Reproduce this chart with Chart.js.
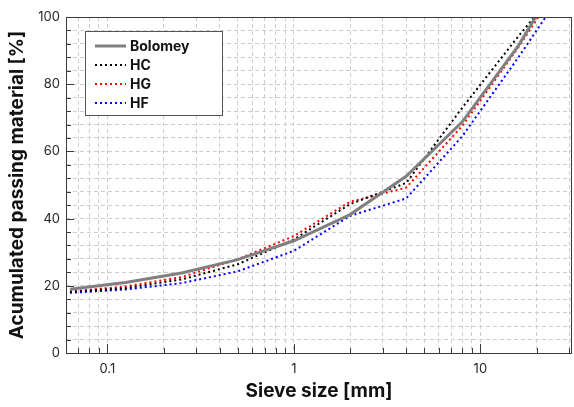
<!DOCTYPE html>
<html>
<head>
<meta charset="utf-8">
<script src="https://cdn.jsdelivr.net/npm/chart.js@4.4.1/dist/chart.umd.min.js"></script>
<style>
  html, body { margin: 0; padding: 0; background: #ffffff; }
  canvas { display: block; }
</style>
</head>
<body>
<canvas id="grading" width="574" height="407"></canvas>
<script>
// sieve openings [mm]
const sieves = [0.063, 0.125, 0.25, 0.5, 1, 2, 4, 8, 16, 22.4];

// accumulated passing [%] per sieve
const bolomey = [19.0, 21.0, 23.8, 27.8, 33.4, 41.2, 52.6, 68.8, 91.5, 105];
const hc      = [18.2, 19.3, 21.9, 26.4, 33.8, 44.3, 50.6, 73.0, 94.3, 104];
const hg      = [18.3, 19.8, 22.6, 27.9, 34.8, 45.0, 49.2, 67.6, 91.0, 103.3];
const hf      = [17.9, 18.9, 20.8, 24.3, 30.4, 40.8, 46.0, 64.5, 88.0, 100];

// axis ticks
const xTicks = [0.06, 0.07, 0.08, 0.09, 0.1, 0.2, 0.3, 0.4, 0.5, 0.6, 0.7, 0.8, 0.9,
                1, 2, 3, 4, 5, 6, 7, 8, 9, 10, 20, 30];
const xTickLabels = [0.1, 1, 10];
const yTickLabels = [0, 20, 40, 60, 80, 100];

const FONT = 'Inter, "DejaVu Sans", sans-serif';
const GRID = '#cdcdcd';
const AXIS = '#3a3a3a';

function pts(ys) {
  return sieves.map((x, i) => ({ x: x, y: ys[i] }));
}

// inner tick marks, box around the plot and the legend
const decorations = {
  id: 'decorations',
  afterDraw(chart) {
    const { ctx, chartArea: a, scales: { x, y } } = chart;
    ctx.save();
    ctx.strokeStyle = AXIS;
    ctx.lineWidth = 1;
    ctx.beginPath();
    x.ticks.forEach(t => {
      const px = Math.round(x.getPixelForValue(t.value)) + 0.5;
      const len = xTickLabels.includes(t.value) ? 9 : 5;
      ctx.moveTo(px, a.bottom);
      ctx.lineTo(px, a.bottom - len);
    });
    y.ticks.forEach(t => {
      const py = Math.round(y.getPixelForValue(t.value)) + 0.5;
      const len = yTickLabels.includes(t.value) ? 8 : 5;
      ctx.moveTo(a.left, py);
      ctx.lineTo(a.left + len, py);
    });
    ctx.stroke();
    ctx.strokeRect(Math.round(a.left) + 0.5, Math.round(a.top) + 0.5,
                   Math.round(a.right - a.left) - 1, Math.round(a.bottom - a.top));

    // legend
    const bx = 85.5, by = 31.5, bw = 137, bh = 84;
    ctx.fillStyle = '#ffffff';
    ctx.fillRect(bx, by, bw, bh);
    ctx.strokeStyle = '#555555';
    ctx.strokeRect(bx, by, bw, bh);
    ctx.font = 'bold 14px ' + FONT;
    ctx.textBaseline = 'middle';
    chart.data.datasets.forEach((ds, i) => {
      const ly = 46 + i * 19;
      ctx.strokeStyle = ds.borderColor;
      ctx.lineWidth = ds.borderWidth;
      ctx.setLineDash(ds.borderDash || []);
      ctx.beginPath();
      ctx.moveTo(95, ly);
      ctx.lineTo(126, ly);
      ctx.stroke();
      ctx.setLineDash([]);
      ctx.fillStyle = '#111111';
      ctx.fillText(ds.label, 130, ly + 1);
    });
    ctx.restore();
  }
};

const dotted = { borderWidth: 2, borderDash: [2, 3], pointRadius: 0, tension: 0, fill: false };

new Chart(document.getElementById('grading'), {
  type: 'line',
  data: {
    datasets: [
      { label: 'Bolomey', data: pts(bolomey), borderColor: '#808080', borderWidth: 3,
        pointRadius: 0, tension: 0, fill: false },
      { label: 'HC', data: pts(hc), borderColor: '#000000', ...dotted },
      { label: 'HG', data: pts(hg), borderColor: '#ff0000', ...dotted },
      { label: 'HF', data: pts(hf), borderColor: '#0000ff', ...dotted }
    ]
  },
  options: {
    responsive: false,
    animation: false,
    devicePixelRatio: 1,
    clip: 0,
    layout: { padding: { top: 17, right: 2, bottom: 0, left: 0 } },
    plugins: { legend: { display: false }, tooltip: { enabled: false } },
    scales: {
      x: {
        type: 'logarithmic',
        min: 0.06,
        max: 31,
        afterBuildTicks: s => { s.ticks = xTicks.map(v => ({ value: v })); },
        afterFit: s => { s.height = 54; s.paddingLeft = 0; s.paddingRight = 0; },
        grid: { color: GRID, drawTicks: false },
        border: { display: false, dash: [4, 3] },
        ticks: {
          autoSkip: false, maxRotation: 0, padding: 8,
          color: '#262626', font: { family: FONT, size: 13 },
          callback: v => xTickLabels.includes(v) ? String(v) : ''
        },
        title: {
          display: true, text: 'Sieve size [mm]', color: '#111111',
          font: { family: FONT, size: 19, weight: 'bold' },
          padding: { top: 0, bottom: 4 }
        }
      },
      y: {
        min: 0,
        max: 100,
        afterFit: s => { s.width = 66; s.paddingTop = 0; s.paddingBottom = 0; },
        grid: { color: GRID, drawTicks: false },
        border: { display: false, dash: [4, 3] },
        ticks: {
          stepSize: 4, autoSkip: false, padding: 6,
          color: '#262626', font: { family: FONT, size: 13 },
          callback: v => yTickLabels.includes(v) ? String(v) : ''
        },
        title: {
          display: true, text: 'Acumulated passing material [%]', color: '#111111',
          font: { family: FONT, size: 19, weight: 'bold' },
          padding: { top: 6, bottom: 0 }
        }
      }
    }
  },
  plugins: [decorations]
});
</script>
</body>
</html>
